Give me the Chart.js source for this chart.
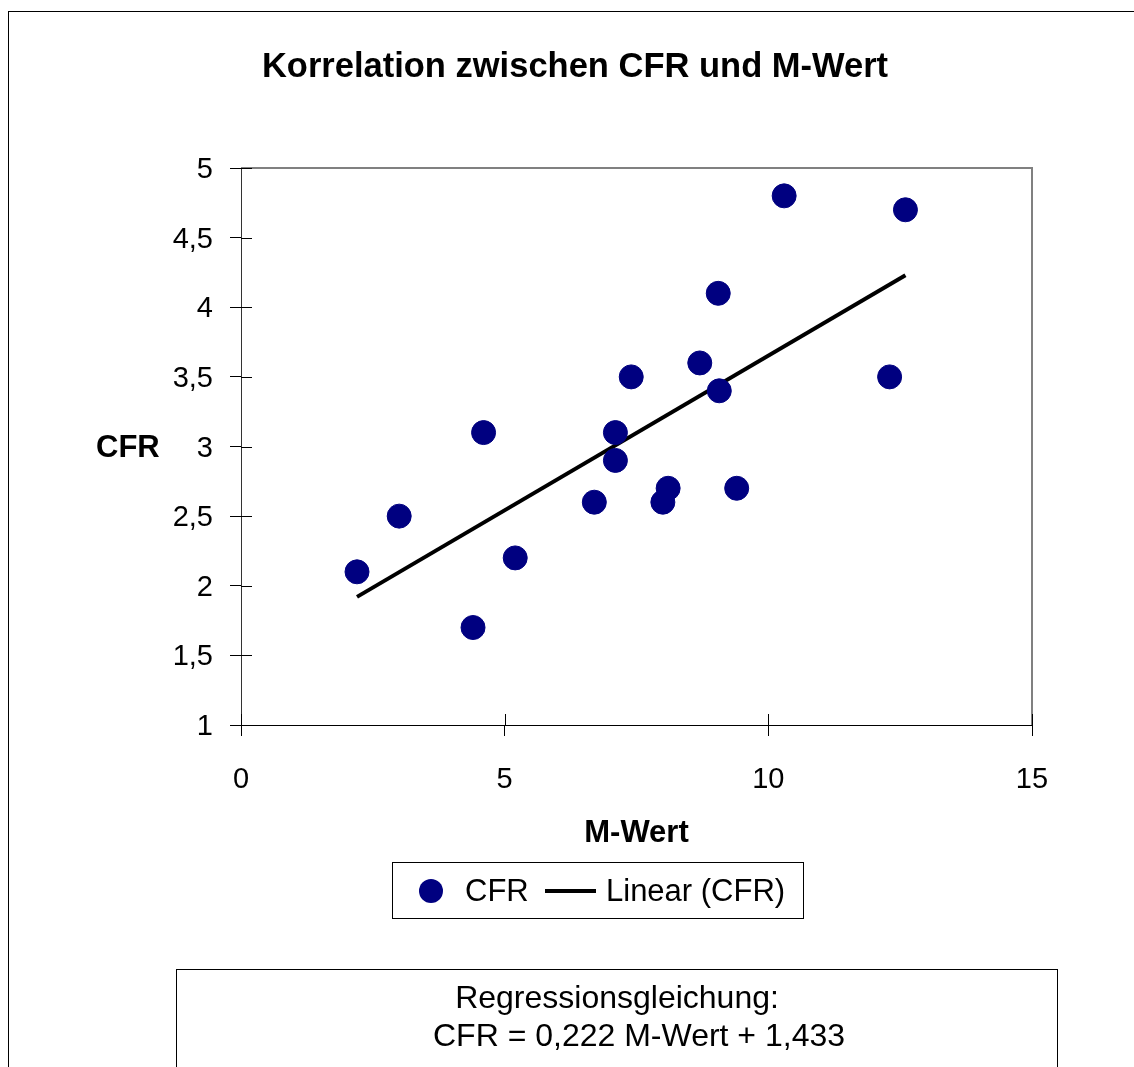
<!DOCTYPE html>
<html>
<head>
<meta charset="utf-8">
<script src="https://cdn.jsdelivr.net/npm/chart.js@4/dist/chart.umd.min.js"></script>
<style>
  body { margin: 0; background: #fff; overflow: hidden; font-family: "Liberation Sans", Arial, sans-serif; }
  #wrap { position: relative; width: 1134px; height: 1067px; }
  #outer { position: absolute; left: 8px; top: 11px; width: 1200px; height: 1200px; border: 1px solid #000; }
  #titel { position: absolute; left: 0; width: 1150px; top: 46px; text-align: center; font-weight: bold; font-size: 34.5px; }
  #ytitel { position: absolute; left: 96px; top: 429px; font-weight: bold; font-size: 31px; }
  #legende { position: absolute; left: 392px; top: 862px; width: 410px; height: 55px; border: 1px solid #000; font-size: 31px; }
  #legende span { position: absolute; top: 10px; }
  #gleichung { position: absolute; left: 176px; top: 969px; width: 880px; height: 120px; border: 1px solid #000; font-size: 32px; text-align: center; }
  canvas { position: absolute; left: 0; top: 0; }
</style>
</head>
<body>
<div id="wrap">
  <div id="outer"></div>
  <canvas id="grafik" width="1134" height="1067"></canvas>
  <div id="titel">Korrelation zwischen CFR und M-Wert</div>
  <div id="ytitel">CFR</div>
  <div id="legende">
    <div style="position:absolute;left:26px;top:16px;width:24px;height:24px;border-radius:50%;background:#000080"></div>
    <span style="left:72px">CFR</span>
    <div style="position:absolute;left:152px;top:26px;width:51px;height:4px;background:#000"></div>
    <span style="left:213px">Linear (CFR)</span>
  </div>
  <div id="gleichung">
    <div style="margin-top:9px">Regressionsgleichung:</div>
    <div style="padding-left:44px;margin-top:1px">CFR = 0,222 M-Wert + 1,433</div>
  </div>
</div>
<script>
var mWert = [2.2, 3.0, 4.4, 4.6, 5.2, 6.7, 7.1, 7.1, 7.4, 8.0, 8.1, 8.7, 9.05, 9.07, 9.4, 10.3, 12.3, 12.6];
var cfr   = [2.1, 2.5, 1.7, 3.1, 2.2, 2.6, 3.1, 2.9, 3.5, 2.6, 2.7, 3.6, 4.1, 3.4, 2.7, 4.8, 3.5, 4.7];
// Trendlinie: Endpunkte
var linieX = [2.2, 12.6];
var linieY = [1.92, 4.23];

var punkte = [];
for (var i = 0; i < mWert.length; i++) {
  punkte.push({x: mWert[i], y: cfr[i]});
}
var linie = [];
for (var j = 0; j < linieX.length; j++) {
  linie.push({x: linieX[j], y: linieY[j]});
}

var TICK = 11;

// Rahmen oben/rechts und Teilstriche nach innen
var rahmen = {
  id: 'rahmen',
  afterDraw: function(chart) {
    var ctx = chart.ctx, a = chart.chartArea;
    var xs = chart.scales.x, ys = chart.scales.y;
    ctx.save();
    ctx.strokeStyle = '#808080';
    ctx.lineWidth = 2;
    ctx.beginPath();
    ctx.moveTo(a.left, a.top);
    ctx.lineTo(a.right, a.top);
    ctx.lineTo(a.right, a.bottom);
    ctx.stroke();
    ctx.strokeStyle = '#000';
    ctx.lineWidth = 1;
    ctx.beginPath();
    xs.ticks.forEach(function(t) {
      var px = Math.round(xs.getPixelForValue(t.value)) + 0.5;
      ctx.moveTo(px, a.bottom);
      ctx.lineTo(px, a.bottom - TICK);
    });
    ys.ticks.forEach(function(t) {
      var py = Math.round(ys.getPixelForValue(t.value)) + 0.5;
      ctx.moveTo(a.left, py);
      ctx.lineTo(a.left + TICK, py);
    });
    ctx.stroke();
    ctx.restore();
  }
};

new Chart(document.getElementById("grafik"), {
  type: 'scatter',
  data: {
    datasets: [{
      label: "CFR",
      data: punkte,
      backgroundColor: "#000080",
      borderColor: "#000080",
      pointRadius: 12,
      pointHoverRadius: 12
    }, {
      type: 'line',
      label: "Linear (CFR)",
      data: linie,
      borderColor: "#000",
      borderWidth: 4,
      pointRadius: 0,
      fill: false
    }]
  },
  options: {
    responsive: false,
    animation: false,
    devicePixelRatio: 1,
    layout: { padding: { left: 0, top: 168, right: 102, bottom: 212 } },
    plugins: {
      legend: { display: false },
      title: { display: false },
      tooltip: { enabled: false }
    },
    scales: {
      x: {
        type: 'linear',
        min: 0, max: 15,
        afterFit: function(s) { s.height = 130; },
        ticks: { stepSize: 5, color: '#000', padding: 27, font: { family: 'Liberation Sans', size: 29 } },
        grid: { drawOnChartArea: false, color: '#000', tickLength: TICK },
        border: { color: '#000', width: 1 },
        title: {
          display: true, text: 'M-Wert', color: '#000',
          font: { family: 'Liberation Sans', size: 31, weight: 'bold' },
          padding: { top: 0, bottom: 3 }
        }
      },
      y: {
        min: 1, max: 5,
        afterFit: function(s) { s.width = 241; },
        ticks: {
          stepSize: 0.5, color: '#000', padding: 17, labelOffset: 2,
          font: { family: 'Liberation Sans', size: 29 },
          callback: function(v) { return String(v).replace('.', ','); }
        },
        grid: { drawOnChartArea: false, color: '#000', tickLength: TICK },
        border: { color: '#333', width: 1 }
      }
    }
  },
  plugins: [rahmen]
});
</script>
</body>
</html>
